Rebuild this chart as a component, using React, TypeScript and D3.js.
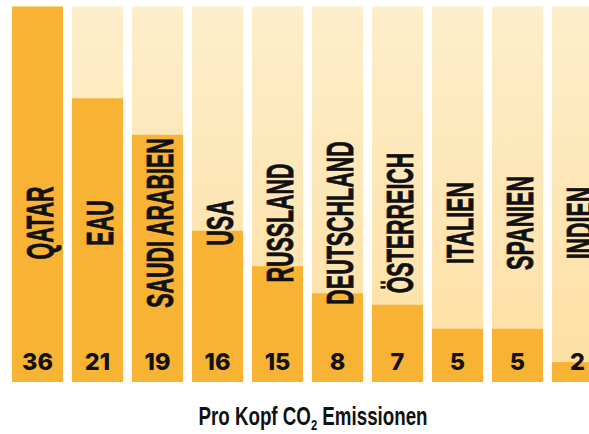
import * as d3 from "d3";

const countries = [
  "QATAR",
  "EAU",
  "SAUDI ARABIEN",
  "USA",
  "RUSSLAND",
  "DEUTSCHLAND",
  "ÖSTERREICH",
  "ITALIEN",
  "SPANIEN",
  "INDIEN",
];
// printed labels (t CO2 per head)
const labels = [36, 21, 19, 16, 15, 8, 7, 5, 5, 2];
// filled heights as drawn in the picture, on the same 0-36 scale
const fills = [36, 27.2, 23.7, 14.5, 11.1, 8.5, 7.4, 5.1, 5.1, 1.9];
const maxValue = 36;

const width = 589;
const height = 434;

export default function App() {
  const x = d3
    .scaleBand<string>()
    .domain(countries)
    .range([12, 603])
    .paddingInner(0.15)
    .paddingOuter(0);

  const y = d3.scaleLinear().domain([0, maxValue]).range([382, 6.5]);

  const bw = x.bandwidth();
  const labelFont = "'Liberation Sans', Arial, sans-serif";

  return (
    <div style={{ position: "fixed", left: 0, top: 0 }}>
      <svg width={width} height={height} style={{ display: "block" }}>
        <defs>
          <linearGradient id="track" x1="0" y1="0" x2="0" y2="1">
            <stop offset="0%" stopColor="#feeecb" />
            <stop offset="100%" stopColor="#fddfa1" />
          </linearGradient>
        </defs>
        <rect width={width} height={height} fill="#ffffff" />
        {countries.map((c, i) => {
          const x0 = x(c)!;
          const cx = x0 + bw / 2;
          return (
            <g key={c}>
              <rect
                x={x0}
                y={y(maxValue)}
                width={bw}
                height={y(0) - y(maxValue)}
                fill="url(#track)"
              />
              <rect
                x={x0}
                y={y(fills[i])}
                width={bw}
                height={y(0) - y(fills[i])}
                fill="#f8b234"
              />
              <text
                transform={`translate(${cx + 15},223) rotate(-90) scale(0.58,1)`}
                textAnchor="middle"
                fontFamily={labelFont}
                fontWeight={700}
                fontSize={37}
                fill="#111"
                stroke="#111"
                strokeWidth={0.9}
              >
                {c}
              </text>
              <text
                x={cx}
                y={370}
                textAnchor="middle"
                fontFamily="Inter, 'Noto Sans', sans-serif"
                fontWeight={800}
                fontSize={23.5}
                fill="#111"
              >
                {labels[i]}
              </text>
            </g>
          );
        })}
        <text
          transform="translate(313,425) scale(0.75,1)"
          textAnchor="middle"
          fontFamily={labelFont}
          fontWeight={700}
          fontSize={25}
          fill="#111"
        >
          Pro Kopf CO
          <tspan fontSize={15} dy={5}>
            2
          </tspan>
          <tspan dy={-5}> Emissionen</tspan>
        </text>
      </svg>
    </div>
  );
}
